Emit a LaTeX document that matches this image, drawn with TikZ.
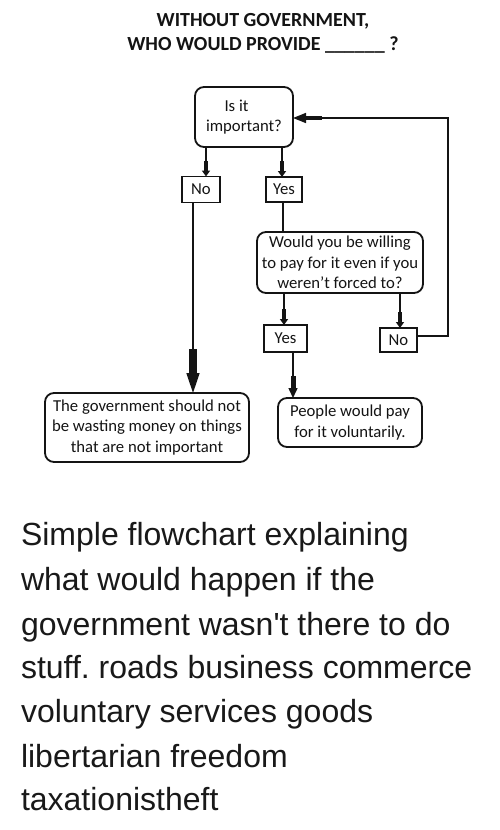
\documentclass[tikz,border=0pt]{standalone}
\usepackage{fontspec}
\setmainfont{Carlito}
\newfontfamily\capfont{Liberation Sans}
\usetikzlibrary{arrows.meta,calc}
\frenchspacing
\begin{document}
\begin{tikzpicture}[x=1pt,y=-1pt,
  every node/.style={inner sep=0pt, outer sep=0pt, text=black!92},
  ttl/.style={font=\bfseries\fontsize{20}{24}\selectfont, anchor=base},
  txt/.style={font=\fontsize{16.7}{20.5}\selectfont, align=center},
  rbox/.style={txt, draw=black!92, line width=1.8pt, rounded corners=9pt, fill=white},
  sbox/.style={txt, draw=black!92, line width=1.6pt, fill=white},
  conn/.style={draw=black!92, line width=1.5pt},
  sarrow/.style={conn, -{Rectangle[length=10pt,width=4.5pt,sep=0pt]Triangle[length=6pt,width=8pt]}},
  marrow/.style={conn, -{Rectangle[length=12pt,width=5pt,sep=0pt]Triangle[length=10pt,width=9pt]}},
  barrow/.style={conn, -{Rectangle[length=24pt,width=8pt,sep=0pt]Triangle[length=20pt,width=13pt]}},
  harrow/.style={conn, -{Rectangle[length=16pt,width=4.5pt,sep=0pt]Triangle[length=13pt,width=10pt]}},
  captxt/.style={font=\capfont\fontsize{32}{44}\selectfont, anchor=base west, text=black!90}
]
\useasboundingbox[fill=white] (0,0) rectangle (500,830);

% title
\node[ttl] (t1) at (263,26) {WITHOUT GOVERNMENT,};
\node[ttl] (t2) at (263,50) {WHO WOULD PROVIDE \_\_\_\_\_\_ ?};

% nodes
\node[rbox, minimum width=98pt, minimum height=60pt] (q1) at (244,117) {Is it\hspace*{15pt}\\important?};
\node[sbox, minimum width=38pt, minimum height=26pt] (no1) at (201,189.5) {No};
\node[sbox, minimum width=36pt, minimum height=25pt] (yes1) at (284,189.5) {Yes};
\node[rbox, minimum width=166pt, minimum height=61pt] (q2) at (340,262.5) {Would you be willing\\to pay for it even if you\\weren't forced to?};
\node[sbox, minimum width=43pt, minimum height=27pt] (yes2) at (285.5,338.5) {Yes};
\node[sbox, minimum width=37pt, minimum height=24pt] (no2) at (398.5,340) {No};
\node[rbox, minimum width=204pt, minimum height=69pt] (bad) at (147,427.5) {The government should not\\be wasting money on things\\that are not important};
\node[rbox, minimum width=144pt, minimum height=49pt] (good) at (350,422.5) {People would pay\\for it voluntarily.};
\coordinate (loop) at (448,118);

% connectors
\draw[sarrow] ([xshift=-38pt]q1.south) -- ([xshift=5pt]no1.north);
\draw[sarrow] ([xshift=38pt]q1.south) -- ([xshift=-2pt]yes1.north);
\draw[conn] ([xshift=-1pt]yes1.south) -- ([xshift=-57pt]q2.north);
\draw[barrow] ([xshift=-8pt]no1.south) -- ([xshift=46pt]bad.north);
\draw[sarrow] ([xshift=-56pt]q2.south) -- ([xshift=-1.5pt]yes2.north);
\draw[sarrow] ([xshift=60pt]q2.south) -- ([xshift=1.5pt]no2.north);
\draw[marrow] ([xshift=7.5pt]yes2.south) -- ([xshift=-57pt]good.north);
\draw[harrow] ([yshift=4pt]no2.east) -| (loop) -- ([yshift=-1pt]q1.east);

% caption
\node[captxt] (c1) at (21,545) {Simple flowchart explaining};
\node[captxt] (c2) at (21,590) {what would happen if the};
\node[captxt] (c3) at (21,635) {government wasn't there to do};
\node[captxt] (c4) at (21,678) {stuff. roads business commerce};
\node[captxt] (c5) at (21,722) {voluntary services goods};
\node[captxt] (c6) at (21,767) {libertarian freedom};
\node[captxt] (c7) at (21,810) {taxationistheft};
\end{tikzpicture}
\end{document}
